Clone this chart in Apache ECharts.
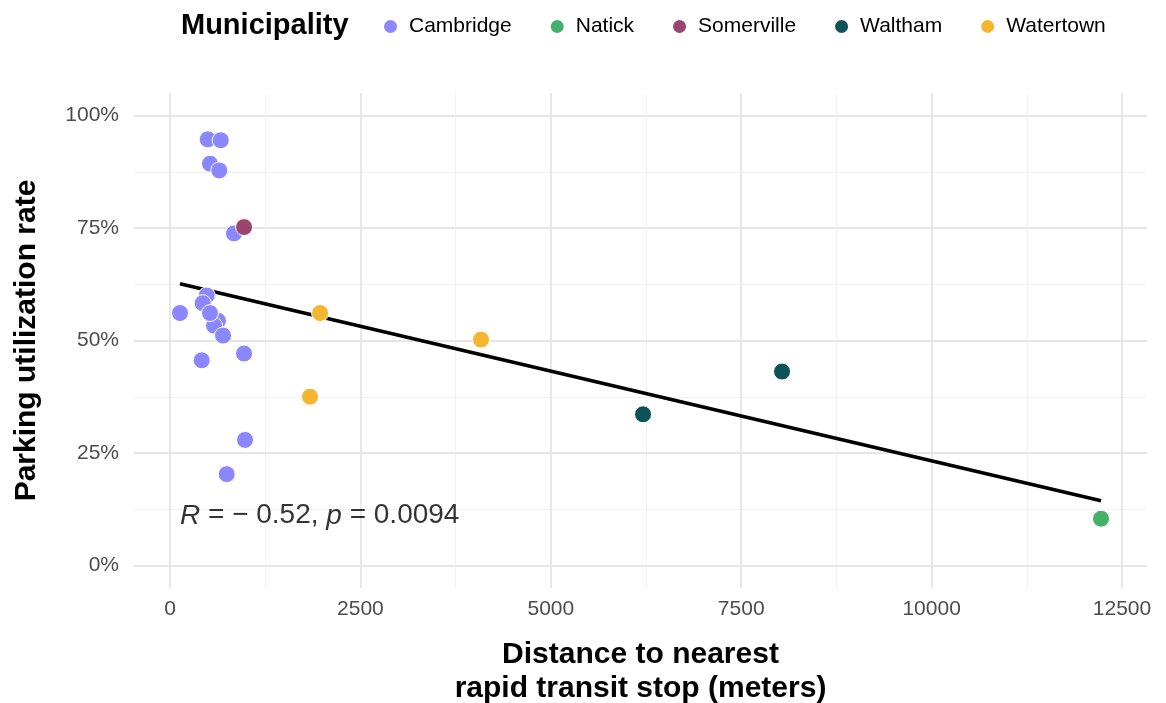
<!DOCTYPE html>
<html>
<head>
<meta charset="utf-8">
<script src="https://cdn.jsdelivr.net/npm/echarts@6/dist/echarts.min.js"></script>
<style>
html,body{margin:0;padding:0;background:#fff;}
#chart{width:1166px;height:703px;}
</style>
</head>
<body>
<div id="chart"></div>
<script>
// ---- data (distance in meters, utilization as fraction) ----
const municipalities = ['Cambridge', 'Natick', 'Somerville', 'Waltham', 'Watertown'];
const colors = ['#8a87ff', '#46b06a', '#9c4470', '#0c5257', '#f5b62f'];

const cambridgeX = [495, 666, 525, 647, 840, 482, 429, 131, 565, 630, 578, 696, 525, 416, 972, 985, 744];
const cambridgeY = [0.947, 0.945, 0.893, 0.878, 0.738, 0.600, 0.583, 0.561, 0.553, 0.544, 0.533, 0.511, 0.561, 0.456, 0.471, 0.279, 0.203];
const natickX = [12224];
const natickY = [0.104];
const somervilleX = [972];
const somervilleY = [0.752];
const walthamX = [6211, 8036];
const walthamY = [0.336, 0.431];
const watertownX = [1970, 1838, 4083];
const watertownY = [0.561, 0.375, 0.502];

// fitted line endpoints
const trendX = [131, 12224];
const trendY = [0.626, 0.144];

// annotation
const annotX = 131;
const annotY = 0.115;

// ticks
const xMajor = [0, 2500, 5000, 7500, 10000, 12500];
const xMinor = [1250, 3750, 6250, 8750, 11250];
const yMajor = [0, 0.25, 0.5, 0.75, 1];
const yMinor = [0.125, 0.375, 0.625, 0.875];
const xRange = [-473, 12828];
const yRange = [-0.05, 1.05];

const pairs = (xs, ys) => xs.map((x, i) => [x, ys[i]]);
const groupData = [
  pairs(cambridgeX, cambridgeY),
  pairs(natickX, natickY),
  pairs(somervilleX, somervilleY),
  pairs(walthamX, walthamY),
  pairs(watertownX, watertownY)
];

const FONT = '"Liberation Sans", Arial, Helvetica, sans-serif';
const chart = echarts.init(document.getElementById('chart'), null, {renderer: 'canvas'});

const majorLine = {show: true, lineStyle: {color: '#e5e5e5', width: 1.8}};
const minorLine = {show: true, lineStyle: {color: '#efefef', width: 0.9}};

const series = [{
  type: 'line',
  xAxisIndex: 0, yAxisIndex: 0,
  data: pairs(trendX, trendY),
  showSymbol: false, symbol: 'none',
  lineStyle: {color: '#000', width: 3.6},
  z: 2, silent: true
}];
municipalities.forEach((m, i) => {
  series.push({
    type: 'scatter',
    name: m,
    xAxisIndex: 0, yAxisIndex: 0,
    data: groupData[i],
    symbolSize: 17,
    itemStyle: {color: colors[i], borderColor: '#fff', borderWidth: 1, opacity: 1},
    z: 3
  });
});
series.push({
  type: 'scatter',
  name: 'annotation',
  xAxisIndex: 0, yAxisIndex: 0,
  data: [[annotX, annotY]],
  symbolSize: 0,
  silent: true,
  z: 4,
  label: {
    show: true, position: 'right', distance: 0, offset: [0, 2],
    formatter: '{i|R} = − 0.52, {i|p} = 0.0094',
    color: '#000', fontSize: 28, fontFamily: FONT,
    rich: {i: {fontStyle: 'italic', fontSize: 28, fontFamily: FONT, color: '#000'}}
  }
});

chart.setOption({
  animation: false,
  backgroundColor: '#fff',
  title: {
    text: 'Municipality', left: 181, top: 11, padding: 0,
    textStyle: {fontFamily: FONT, fontWeight: 'bold', fontSize: 29, color: '#000'}
  },
  legend: {
    data: municipalities,
    left: 382, top: 16, padding: 0,
    icon: 'circle', itemWidth: 15, itemHeight: 15, itemGap: 37,
    textStyle: {fontFamily: FONT, fontSize: 21, color: '#000', padding: [0, 0, 0, 6]}
  },
  grid: {left: 134, right: 19, top: 93, bottom: 115, containLabel: false, outerBoundsMode: 'none'},
  xAxis: [{
    type: 'value', min: xRange[0], max: xRange[1],
    name: 'Distance to nearest\nrapid transit stop (meters)',
    nameLocation: 'middle', nameGap: 50,
    nameTextStyle: {fontFamily: FONT, fontWeight: 'bold', fontSize: 30, color: '#000', lineHeight: 34},
    axisLine: {show: false},
    axisTick: {show: false, customValues: xMajor},
    axisLabel: {customValues: xMajor, color: '#4d4d4d', fontSize: 21, fontFamily: FONT, margin: 11,
      formatter: v => String(v)},
    splitLine: majorLine
  }, {
    type: 'value', min: xRange[0], max: xRange[1], position: 'bottom',
    axisLine: {show: false},
    axisTick: {show: false, customValues: xMinor},
    axisLabel: {show: false, customValues: xMinor},
    splitLine: minorLine
  }],
  yAxis: [{
    type: 'value', min: yRange[0], max: yRange[1],
    name: 'Parking utilization rate',
    nameLocation: 'middle', nameGap: 92,
    nameTextStyle: {fontFamily: FONT, fontWeight: 'bold', fontSize: 30, color: '#000'},
    axisLine: {show: false},
    axisTick: {show: false, customValues: yMajor},
    axisLabel: {customValues: yMajor, color: '#4d4d4d', fontSize: 21, fontFamily: FONT, margin: 15,
      formatter: v => Math.round(v * 100) + '%'},
    splitLine: majorLine
  }, {
    type: 'value', min: yRange[0], max: yRange[1], position: 'left',
    axisLine: {show: false},
    axisTick: {show: false, customValues: yMinor},
    axisLabel: {show: false, customValues: yMinor},
    splitLine: minorLine
  }],
  series: series
});
</script>
</body>
</html>
